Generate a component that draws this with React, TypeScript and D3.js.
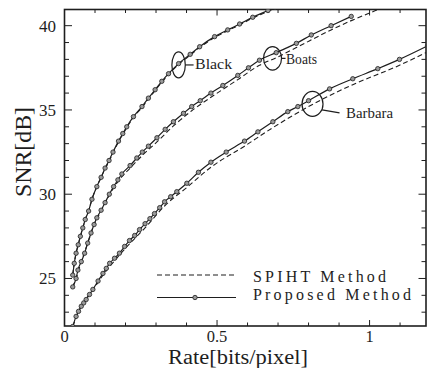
import * as d3 from 'd3';

const W = 427;
const H = 368;
const FONT = '"Liberation Serif", "Times New Roman", serif';

// Black image
const blackRate = [0.027, 0.032, 0.038, 0.045, 0.052, 0.06, 0.068, 0.079, 0.09, 0.106, 0.12, 0.133, 0.146, 0.159, 0.177, 0.191, 0.204, 0.226, 0.254, 0.275, 0.297, 0.319, 0.341, 0.374, 0.412, 0.443, 0.492, 0.535, 0.574, 0.617, 0.667, 0.69];
const blackProposed = [25.2, 25.9, 26.5, 27.0, 27.5, 28.0, 28.5, 29.0, 29.7, 30.45, 31.0, 31.55, 32.0, 32.5, 33.15, 33.6, 34.0, 34.6, 35.2, 35.7, 36.2, 36.7, 37.15, 37.75, 38.3, 38.75, 39.35, 39.75, 40.1, 40.5, 40.9, 41.1];
const blackSpiht = [25.2, 25.9, 26.5, 27.0, 27.5, 28.0, 28.5, 29.0, 29.7, 30.45, 31.0, 31.5, 31.95, 32.45, 33.1, 33.55, 33.95, 34.55, 35.15, 35.65, 36.15, 36.65, 37.1, 37.7, 38.25, 38.7, 39.3, 39.7, 40.05, 40.45, 40.85, 41.05];

// Boats image
const boatsRate = [0.027, 0.038, 0.044, 0.055, 0.066, 0.076, 0.087, 0.097, 0.106, 0.12, 0.133, 0.147, 0.161, 0.175, 0.188, 0.215, 0.237, 0.255, 0.275, 0.303, 0.33, 0.357, 0.39, 0.417, 0.445, 0.48, 0.519, 0.568, 0.603, 0.639, 0.694, 0.76, 0.809, 0.874, 0.94];
const boatsProposed = [24.5, 25.0, 25.5, 26.0, 26.5, 27.1, 27.7, 28.2, 28.6, 29.05, 29.5, 30.0, 30.45, 30.85, 31.2, 31.7, 32.15, 32.5, 32.85, 33.35, 33.85, 34.3, 34.8, 35.2, 35.55, 36.0, 36.45, 37.05, 37.5, 37.95, 38.4, 38.95, 39.45, 40.0, 40.55];
const boatsSpihtRate = [0.027, 0.038, 0.055, 0.076, 0.097, 0.12, 0.147, 0.175, 0.215, 0.255, 0.303, 0.357, 0.417, 0.48, 0.568, 0.639, 0.694, 0.76, 0.874, 0.94, 1.0, 1.04];
const boatsSpiht = [24.5, 25.0, 26.0, 27.1, 28.2, 29.0, 29.95, 30.75, 31.55, 32.3, 33.1, 34.05, 34.95, 35.75, 36.8, 37.65, 38.1, 38.7, 39.75, 40.3, 40.75, 41.05];

// Barbara image
const barbaraRate = [0.027, 0.038, 0.046, 0.055, 0.063, 0.071, 0.082, 0.093, 0.11, 0.126, 0.137, 0.148, 0.164, 0.18, 0.197, 0.213, 0.23, 0.246, 0.264, 0.28, 0.295, 0.312, 0.328, 0.348, 0.368, 0.401, 0.439, 0.48, 0.53, 0.59, 0.634, 0.683, 0.732, 0.765, 0.8, 0.869, 0.945, 1.027, 1.098, 1.19];
const barbaraProposed = [22.15, 22.75, 23.05, 23.35, 23.55, 23.75, 24.05, 24.35, 24.85, 25.3, 25.6, 25.9, 26.2, 26.5, 26.9, 27.25, 27.55, 27.9, 28.25, 28.55, 28.85, 29.2, 29.55, 29.85, 30.15, 30.65, 31.3, 31.9, 32.5, 33.15, 33.7, 34.3, 34.9, 35.2, 35.55, 36.25, 36.85, 37.45, 38.0, 38.8];
const barbaraSpihtRate = [0.027, 0.055, 0.093, 0.126, 0.164, 0.213, 0.264, 0.328, 0.401, 0.48, 0.59, 0.683, 0.8, 0.945, 1.098, 1.19];
const barbaraSpiht = [22.15, 23.35, 24.3, 25.2, 26.05, 27.05, 28.0, 29.3, 30.4, 31.6, 32.85, 33.95, 35.2, 36.5, 37.65, 38.45];

const xMajor = [0, 0.5, 1];
const xMajorLabels = ['0', '0.5', '1'];
const yMajor = [25, 30, 35, 40];
const yMajorLabels = ['25', '30', '35', '40'];

const curveNames = ['Black', 'Boats', 'Barbara'];
const annRate = [0.374, 0.682, 0.813];
const annSnr = [37.67, 38.06, 35.36];

const x = d3.scaleLinear().domain([0, 1.185]).range([64.5, 426]);
const y = d3.scaleLinear().domain([22.18, 40.96]).range([326, 9.5]);

const zip = (r: number[], s: number[]) => r.map((v, i) => [v, s[i]] as [number, number]);

const line = d3
  .line<[number, number]>()
  .x((d) => x(d[0]))
  .y((d) => y(d[1]))
  .curve(d3.curveMonotoneX);

const proposed = [
  zip(blackRate, blackProposed),
  zip(boatsRate, boatsProposed),
  zip(barbaraRate, barbaraProposed),
];
const spiht = [
  zip(blackRate, blackSpiht),
  zip(boatsSpihtRate, boatsSpiht),
  zip(barbaraSpihtRate, barbaraSpiht),
];

const INK = '#1e1e1e';

function Marker({ cx, cy }: { cx: number; cy: number }) {
  return <circle cx={cx} cy={cy} r={2.2} fill="#9a9a9a" stroke={INK} strokeWidth={0.8} />;
}

export default function App() {
  const [x0, x1] = x.range();
  const [y0, y1] = y.range();
  const xMinor = d3.range(0.1, 1.18, 0.1);
  const yMinor = d3.range(23, 41, 1);

  return (
    <svg
      width={W}
      height={H}
      style={{ position: 'fixed', left: 0, top: 0, background: '#fff' }}
      fontFamily={FONT}
    >
      <defs>
        <clipPath id="plot">
          <rect x={x0} y={y1} width={x1 - x0} height={y0 - y1} />
        </clipPath>
      </defs>

      {/* ticks on all four sides, pointing inward */}
      <g stroke={INK} strokeWidth={1}>
        {xMinor.map((t) => {
          const major = Math.abs(t - 0.5) < 1e-6 || Math.abs(t - 1) < 1e-6;
          const len = major ? 6 : 3.5;
          return (
            <g key={'x' + t}>
              <line x1={x(t)} x2={x(t)} y1={y0} y2={y0 - len} />
              <line x1={x(t)} x2={x(t)} y1={y1} y2={y1 + len} />
            </g>
          );
        })}
        {yMinor.map((t) => {
          const major = t % 5 === 0;
          const len = major ? 7.5 : 4.5;
          return (
            <g key={'y' + t}>
              <line x1={x0} x2={x0 + len} y1={y(t)} y2={y(t)} />
              <line x1={x1} x2={x1 - len} y1={y(t)} y2={y(t)} />
            </g>
          );
        })}
      </g>

      {/* frame */}
      <rect x={x0} y={y1} width={x1 - x0} height={y0 - y1} fill="none" stroke={INK} strokeWidth={1.6} />

      {/* tick labels */}
      <g fill={INK} fontSize={16.5}>
        {xMajor.map((t, i) => (
          <text key={t} x={x(t)} y={342} textAnchor="middle">
            {xMajorLabels[i]}
          </text>
        ))}
        {yMajor.map((t, i) => (
          <text key={t} x={56} y={y(t)} dy="0.35em" textAnchor="end" fontSize={17}>
            {yMajorLabels[i]}
          </text>
        ))}
      </g>

      {/* axis titles */}
      <text x={238} y={364} fontSize={20} textAnchor="middle" fill={INK} textLength={140} lengthAdjust="spacingAndGlyphs">
        Rate[bits/pixel]
      </text>
      <text
        transform="translate(30.5,152) rotate(-90)"
        fontSize={23}
        textAnchor="middle"
        fill={INK}
        textLength={90}
        lengthAdjust="spacingAndGlyphs"
      >
        SNR[dB]
      </text>

      {/* curves */}
      <g clipPath="url(#plot)">
        {spiht.map((d, i) => (
          <path key={'s' + i} d={line(d) ?? ''} fill="none" stroke={INK} strokeWidth={1.1} strokeDasharray="5,3" />
        ))}
        {proposed.map((d, i) => (
          <g key={'p' + i}>
            <path d={line(d) ?? ''} fill="none" stroke={INK} strokeWidth={1.2} />
            {d.map((p, j) => (
              <Marker key={j} cx={x(p[0])} cy={y(p[1])} />
            ))}
          </g>
        ))}
      </g>

      {/* curve annotations */}
      <g fill="none" stroke={INK} strokeWidth={1.2}>
        <ellipse cx={x(annRate[0])} cy={y(annSnr[0])} rx={6.7} ry={13} />
        <line x1={x(annRate[0]) + 6.7} x2={x(annRate[0]) + 15} y1={y(annSnr[0])} y2={y(annSnr[0])} />
        <ellipse cx={x(annRate[1])} cy={y(annSnr[1])} rx={9} ry={11.7} />
        <line x1={x(annRate[1]) + 9} x2={x(annRate[1]) + 13} y1={y(annSnr[1])} y2={y(annSnr[1])} />
        <ellipse cx={x(annRate[2])} cy={y(annSnr[2])} rx={10.5} ry={12.5} />
        <line x1={x(annRate[2]) + 9.5} x2={x(annRate[2]) + 27} y1={y(annSnr[2]) + 6} y2={y(annSnr[2]) + 9} />
      </g>
      <g fill={INK} fontSize={14}>
        <text x={x(annRate[0]) + 16.5} y={y(annSnr[0]) + 4.5} textLength={37} lengthAdjust="spacingAndGlyphs">
          {curveNames[0]}
        </text>
        <text x={x(annRate[1]) + 13.5} y={y(annSnr[1]) + 5.5} textLength={31} lengthAdjust="spacingAndGlyphs">
          {curveNames[1]}
        </text>
        <text x={x(annRate[2]) + 33.5} y={y(annSnr[2]) + 14.3} textLength={47} lengthAdjust="spacingAndGlyphs">
          {curveNames[2]}
        </text>
      </g>

      {/* legend */}
      <g>
        <line x1={157} x2={237} y1={275} y2={275} stroke={INK} strokeWidth={1.1} strokeDasharray="5,3" />
        <line x1={157} x2={236} y1={297.5} y2={297.5} stroke={INK} strokeWidth={1.2} />
        <Marker cx={195} cy={297.5} />
        <text x={253} y={281.5} fontSize={16} fill={INK} textLength={133} lengthAdjust="spacing">
          SPIHT Method
        </text>
        <text x={253} y={300} fontSize={16} fill={INK} textLength={158} lengthAdjust="spacing">
          Proposed Method
        </text>
      </g>
    </svg>
  );
}
